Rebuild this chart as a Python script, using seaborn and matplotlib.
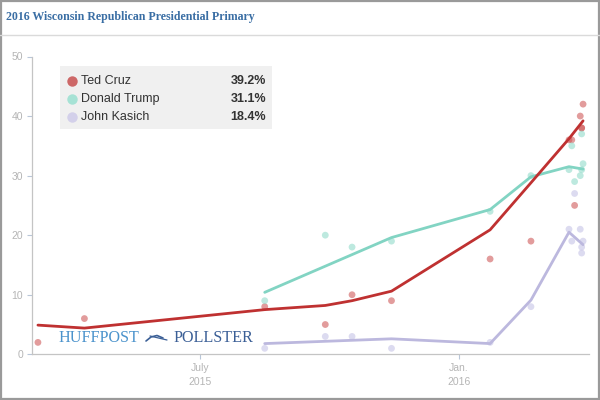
import matplotlib
matplotlib.use("Agg")
import matplotlib.pyplot as plt
from matplotlib.patches import Rectangle
from matplotlib.lines import Line2D
import seaborn as sns
import pandas as pd

# ---------------- data ----------------
candidates = ["Ted Cruz", "Donald Trump", "John Kasich"]
final_values = ["39.2%", "31.1%", "18.4%"]

cruz_poll_dates = ["2015-03-08", "2015-04-10", "2015-08-16", "2015-09-28", "2015-10-17",
                   "2015-11-14", "2016-01-23", "2016-02-21", "2016-03-19", "2016-03-21",
                   "2016-03-23", "2016-03-27", "2016-03-28", "2016-03-29", "2016-03-28"]
cruz_poll_values = [2, 6, 8, 5, 10, 9, 16, 19, 36, 36, 25, 40, 38, 42, 38]

trump_poll_dates = ["2015-08-16", "2015-09-28", "2015-10-17", "2015-11-14", "2016-01-23",
                    "2016-02-21", "2016-03-19", "2016-03-21", "2016-03-23", "2016-03-27",
                    "2016-03-28", "2016-03-29", "2016-03-28"]
trump_poll_values = [9, 20, 18, 19, 24, 30, 31, 35, 29, 30, 37, 32, 31]

kasich_poll_dates = ["2015-08-16", "2015-09-28", "2015-10-17", "2015-11-14", "2016-01-23",
                     "2016-02-21", "2016-03-19", "2016-03-21", "2016-03-23", "2016-03-27",
                     "2016-03-28", "2016-03-29", "2016-03-28"]
kasich_poll_values = [1, 3, 3, 1, 2, 8, 21, 19, 27, 21, 18, 19, 17]

cruz_trend_dates = ["2015-03-08", "2015-04-10", "2015-08-16", "2015-09-28", "2015-10-17",
                    "2015-11-14", "2016-01-23", "2016-02-21", "2016-03-19", "2016-03-29"]
cruz_trend_values = [4.9, 4.4, 7.5, 8.2, 9.0, 10.6, 20.9, 28.8, 36.2, 39.2]

trump_trend_dates = ["2015-08-16", "2015-11-14", "2016-01-23", "2016-02-21", "2016-03-19",
                     "2016-03-29"]
trump_trend_values = [10.4, 19.6, 24.3, 29.8, 31.5, 31.1]

kasich_trend_dates = ["2015-08-16", "2015-11-14", "2016-01-23", "2016-02-21", "2016-03-19",
                      "2016-03-29"]
kasich_trend_values = [1.8, 2.6, 1.8, 9.1, 20.5, 18.4]

x_tick_dates = ["2015-07-01", "2016-01-01"]
x_tick_labels = ["July\n2015", "Jan.\n2016"]
y_ticks = [0, 10, 20, 30, 40, 50]

# ---------------- frames ----------------
polls = pd.concat([
    pd.DataFrame({"date": pd.to_datetime(cruz_poll_dates), "value": cruz_poll_values, "candidate": "Ted Cruz"}),
    pd.DataFrame({"date": pd.to_datetime(trump_poll_dates), "value": trump_poll_values, "candidate": "Donald Trump"}),
    pd.DataFrame({"date": pd.to_datetime(kasich_poll_dates), "value": kasich_poll_values, "candidate": "John Kasich"}),
], ignore_index=True)

trend = pd.concat([
    pd.DataFrame({"date": pd.to_datetime(kasich_trend_dates), "value": kasich_trend_values, "candidate": "John Kasich"}),
    pd.DataFrame({"date": pd.to_datetime(trump_trend_dates), "value": trump_trend_values, "candidate": "Donald Trump"}),
    pd.DataFrame({"date": pd.to_datetime(cruz_trend_dates), "value": cruz_trend_values, "candidate": "Ted Cruz"}),
], ignore_index=True)

line_colors = {"Ted Cruz": "#bf3131", "Donald Trump": "#82d4c3", "John Kasich": "#bcb8de"}
dot_colors = {"Ted Cruz": "#cf5a5a", "Donald Trump": "#92dbca", "John Kasich": "#c6c3e6"}
legend_colors = {"Ted Cruz": "#cd6868", "Donald Trump": "#a6e2d5", "John Kasich": "#d3d0ea"}

# ---------------- plot ----------------
sns.set_theme(style="white")
plt.rcParams["font.family"] = ["Liberation Sans", "DejaVu Sans"]

fig = plt.figure(figsize=(6, 4), dpi=100)
fig.patch.set_facecolor("white")
ax = fig.add_axes([32.3 / 600, 1 - 354.3 / 400, (588.7 - 32.3) / 600, (354.3 - 56.5) / 400])
ax.set_facecolor("none")

sns.scatterplot(data=polls, x="date", y="value", hue="candidate",
                hue_order=["John Kasich", "Donald Trump", "Ted Cruz"],
                palette=dot_colors, s=24, linewidth=0, alpha=0.6, legend=False, ax=ax, zorder=2)
sns.lineplot(data=trend, x="date", y="value", hue="candidate",
             hue_order=["John Kasich", "Donald Trump", "Ted Cruz"],
             palette=line_colors, linewidth=2.0, estimator=None, sort=False,
             legend=False, ax=ax, zorder=3)

ax.set_xlim(pd.Timestamp("2015-03-04"), pd.Timestamp("2016-04-02"))
ax.set_ylim(0, 50)
ax.set_xticks(pd.to_datetime(x_tick_dates))
ax.set_xticklabels(x_tick_labels, fontsize=7.5, color="#b5b5b5", linespacing=1.5)
ax.set_yticks(y_ticks)
ax.set_yticklabels([str(v) for v in y_ticks], fontsize=7.5, color="#b5b5b5")
ax.tick_params(axis="both", which="major", length=3.5, width=0.8, color="#b8c6d8",
               direction="out", bottom=True, left=True, pad=3)
ax.set_xlabel("")
ax.set_ylabel("")
for s in ["top", "right"]:
    ax.spines[s].set_visible(False)
for s in ["left", "bottom"]:
    ax.spines[s].set_color("#c4c4c4")
    ax.spines[s].set_linewidth(0.9)
ax.grid(False)

# ---------------- title & frame ----------------
fig.text(6 / 600, 1 - 17 / 400, "2016 Wisconsin Republican Presidential Primary",
         fontsize=8.6, fontweight="bold", family=["Liberation Serif", "DejaVu Serif"],
         color="#3a6ea4", ha="left", va="center")
fig.add_artist(Line2D([0, 1], [1 - 35 / 400, 1 - 35 / 400], transform=fig.transFigure,
                      color="#dadada", linewidth=1.0))
fig.add_artist(Rectangle((0.001, 0.002), 0.997, 0.996, transform=fig.transFigure,
                         fill=False, edgecolor="#9a9a9a", linewidth=1.6))

# ---------------- legend ----------------
fig.add_artist(Rectangle((60 / 600, 1 - 129 / 400), 212 / 600, 63 / 400,
                         transform=fig.transFigure, facecolor="#f0f0f0", edgecolor="none", zorder=4))
row_y = [80.7, 98.7, 116.7]
for name, val, yy in zip(candidates, final_values, row_y):
    fy = 1 - yy / 400
    fig.add_artist(Line2D([72 / 600], [fy], transform=fig.transFigure, marker="o",
                          markersize=7.5, markerfacecolor=legend_colors[name],
                          markeredgewidth=0, linestyle="none", zorder=5))
    fig.text(81 / 600, fy, name, fontsize=9, color="#333333", ha="left", va="center", zorder=5)
    fig.text(266 / 600, fy, val, fontsize=9, color="#333333", fontweight="bold",
             ha="right", va="center", zorder=5)

# ---------------- logo ----------------
fig.text(58 / 600, 1 - 338 / 400, "HUFFPOST", fontsize=11.6,
         family=["Liberation Serif", "DejaVu Serif"], color="#4b93cc", ha="left", va="center")
fig.text(173 / 600, 1 - 338 / 400, "POLLSTER", fontsize=11.6,
         family=["Liberation Serif", "DejaVu Serif"], color="#3b5f96", ha="left", va="center")
fig.add_artist(Line2D([146 / 600, 151 / 600, 157 / 600, 163 / 600],
                      [1 - 341 / 400, 1 - 337 / 400, 1 - 335.5 / 400, 1 - 338 / 400],
                      transform=fig.transFigure, color="#3b5f96", linewidth=1.2))
fig.add_artist(Line2D([150 / 600, 167 / 600], [1 - 336 / 400, 1 - 340 / 400],
                      transform=fig.transFigure, color="#3b5f96", linewidth=0.9))

fig.savefig("out.png", dpi=100, facecolor="white")
